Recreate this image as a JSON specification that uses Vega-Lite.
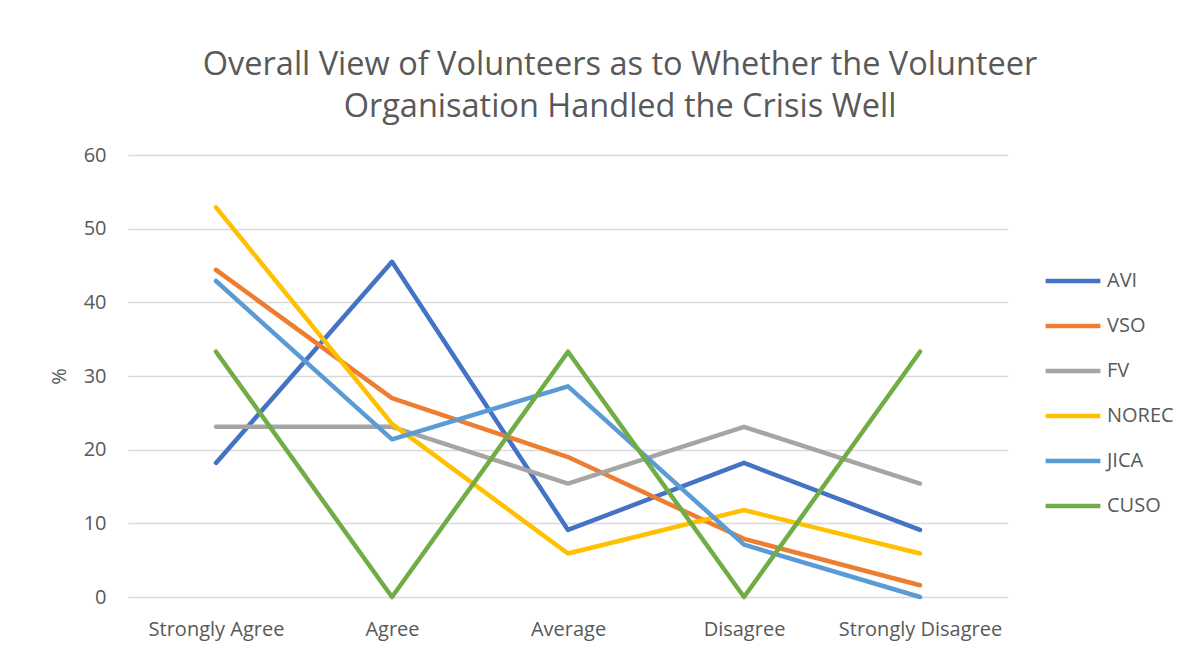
{
  "$schema": "https://vega.github.io/schema/vega-lite/v6.json",
  "width": 880,
  "height": 442,
  "autosize": {"type": "none"},
  "padding": {"left": 128, "top": 155, "right": 184, "bottom": 56},
  "background": "white",
  "title": {
    "text": ["Overall View of Volunteers as to Whether the Volunteer", "Organisation Handled the Crisis Well"],
    "font": "Open Sans",
    "fontSize": 32.5,
    "fontWeight": "normal",
    "color": "#595959",
    "anchor": "middle",
    "dx": 52,
    "offset": 22,
    "lineHeight": 42
  },
  "data": {
    "values": [
      {"category": "Strongly Agree", "org": "AVI", "value": 18.2},
      {"category": "Agree", "org": "AVI", "value": 45.5},
      {"category": "Average", "org": "AVI", "value": 9.1},
      {"category": "Disagree", "org": "AVI", "value": 18.2},
      {"category": "Strongly Disagree", "org": "AVI", "value": 9.1},
      {"category": "Strongly Agree", "org": "VSO", "value": 44.4},
      {"category": "Agree", "org": "VSO", "value": 27.0},
      {"category": "Average", "org": "VSO", "value": 19.0},
      {"category": "Disagree", "org": "VSO", "value": 7.9},
      {"category": "Strongly Disagree", "org": "VSO", "value": 1.6},
      {"category": "Strongly Agree", "org": "FV", "value": 23.1},
      {"category": "Agree", "org": "FV", "value": 23.1},
      {"category": "Average", "org": "FV", "value": 15.4},
      {"category": "Disagree", "org": "FV", "value": 23.1},
      {"category": "Strongly Disagree", "org": "FV", "value": 15.4},
      {"category": "Strongly Agree", "org": "NOREC", "value": 52.9},
      {"category": "Agree", "org": "NOREC", "value": 23.5},
      {"category": "Average", "org": "NOREC", "value": 5.9},
      {"category": "Disagree", "org": "NOREC", "value": 11.8},
      {"category": "Strongly Disagree", "org": "NOREC", "value": 5.9},
      {"category": "Strongly Agree", "org": "JICA", "value": 42.9},
      {"category": "Agree", "org": "JICA", "value": 21.4},
      {"category": "Average", "org": "JICA", "value": 28.6},
      {"category": "Disagree", "org": "JICA", "value": 7.1},
      {"category": "Strongly Disagree", "org": "JICA", "value": 0},
      {"category": "Strongly Agree", "org": "CUSO", "value": 33.3},
      {"category": "Agree", "org": "CUSO", "value": 0},
      {"category": "Average", "org": "CUSO", "value": 33.3},
      {"category": "Disagree", "org": "CUSO", "value": 0},
      {"category": "Strongly Disagree", "org": "CUSO", "value": 33.3}
    ]
  },
  "mark": {"type": "line", "strokeWidth": 4.5, "strokeCap": "round", "strokeJoin": "round"},
  "encoding": {
    "x": {
      "field": "category",
      "type": "nominal",
      "sort": ["Strongly Agree", "Agree", "Average", "Disagree", "Strongly Disagree"],
      "scale": {"type": "point", "padding": 0.5},
      "axis": {
        "title": null,
        "labelAngle": 0,
        "labelFont": "Open Sans",
        "labelFontSize": 20,
        "labelColor": "#595959",
        "labelPadding": 22,
        "domain": false,
        "ticks": false,
        "grid": false
      }
    },
    "y": {
      "field": "value",
      "type": "quantitative",
      "scale": {"domain": [0, 60]},
      "axis": {
        "title": "%",
        "titleFont": "Open Sans",
        "titleFontSize": 20,
        "titleFontWeight": "normal",
        "titleColor": "#595959",
        "titlePadding": 14,
        "values": [0, 10, 20, 30, 40, 50, 60],
        "labelFont": "Open Sans",
        "labelFontSize": 20,
        "labelColor": "#595959",
        "labelPadding": 22,
        "domain": false,
        "ticks": false,
        "grid": true,
        "gridColor": "#D9D9D9",
        "gridWidth": 1.5
      }
    },
    "color": {
      "field": "org",
      "type": "nominal",
      "sort": ["AVI", "VSO", "FV", "NOREC", "JICA", "CUSO"],
      "scale": {
        "domain": ["AVI", "VSO", "FV", "NOREC", "JICA", "CUSO"],
        "range": ["#4472C4", "#ED7D31", "#A5A5A5", "#FFC000", "#5B9BD5", "#70AD47"]
      },
      "legend": {
        "title": null,
        "orient": "none",
        "legendX": 915,
        "legendY": 96,
        "symbolType": "stroke",
        "symbolSize": 3000,
        "symbolStrokeWidth": 4.5,
        "labelFont": "Open Sans",
        "labelFontSize": 20,
        "labelColor": "#595959",
        "labelOffset": 4,
        "rowPadding": 5
      }
    }
  },
  "config": {
    "view": {"stroke": null}
  }
}
